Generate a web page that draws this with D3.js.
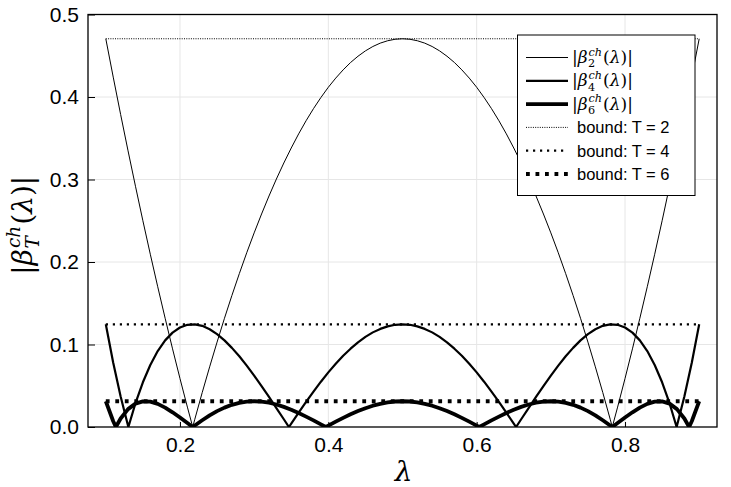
<!DOCTYPE html>
<html>
<head>
<meta charset="utf-8">
<script src="https://cdn.jsdelivr.net/npm/d3@7"></script>
<style>
  html, body { margin: 0; padding: 0; background: #fff; }
  svg { display: block; }
</style>
</head>
<body>
<svg id="chart" width="731" height="487"></svg>
<script>
// ---------------- data ----------------
const lambdaGrid = [0.10,0.11,0.12,0.13,0.14,0.15,0.16,0.17,0.18,0.19,0.20,0.21,0.22,0.23,0.24,0.25,0.26,0.27,0.28,0.29,0.30,0.31,0.32,0.33,0.34,0.35,0.36,0.37,0.38,0.39,0.40,0.41,0.42,0.43,0.44,0.45,0.46,0.47,0.48,0.49,0.50,0.51,0.52,0.53,0.54,0.55,0.56,0.57,0.58,0.59,0.60,0.61,0.62,0.63,0.64,0.65,0.66,0.67,0.68,0.69,0.70,0.71,0.72,0.73,0.74,0.75,0.76,0.77,0.78,0.79,0.80,0.81,0.82,0.83,0.84,0.85,0.86,0.87,0.88,0.89,0.90];

const beta2 = [0.4706,0.4241,0.3788,0.3347,0.2918,0.2500,0.2094,0.1700,0.1318,0.0947,0.0588,0.0241,0.0094,0.0418,0.0729,0.1029,0.1318,0.1594,0.1859,0.2112,0.2353,0.2582,0.2800,0.3006,0.3200,0.3382,0.3553,0.3712,0.3859,0.3994,0.4118,0.4229,0.4329,0.4418,0.4494,0.4559,0.4612,0.4653,0.4682,0.4700,0.4706,
  0.4700,0.4682,0.4653,0.4612,0.4559,0.4494,0.4418,0.4329,0.4229,0.4118,0.3994,0.3859,0.3712,0.3553,0.3382,0.3200,0.3006,0.2800,0.2582,0.2353,0.2112,0.1859,0.1594,0.1318,0.1029,0.0729,0.0418,0.0094,0.0241,0.0588,0.0947,0.1318,0.1700,0.2094,0.2500,0.2918,0.3347,0.3788,0.4241,0.4706];

const beta4 = [0.1245,0.0778,0.0369,0.0015,0.0288,0.0542,0.0752,0.0920,0.1050,0.1144,0.1206,0.1239,0.1244,0.1226,0.1185,0.1126,0.1050,0.0959,0.0857,0.0744,0.0623,0.0495,0.0364,0.0229,0.0094,0.0041,0.0174,0.0304,0.0429,0.0549,0.0662,0.0766,0.0863,0.0949,0.1026,0.1092,0.1147,0.1189,0.1220,0.1239,0.1245,
  0.1239,0.1220,0.1189,0.1147,0.1092,0.1026,0.0949,0.0863,0.0766,0.0662,0.0549,0.0429,0.0304,0.0174,0.0041,0.0094,0.0229,0.0364,0.0495,0.0623,0.0744,0.0857,0.0959,0.1050,0.1126,0.1185,0.1226,0.1244,0.1239,0.1206,0.1144,0.1050,0.0920,0.0752,0.0542,0.0288,0.0015,0.0369,0.0778,0.1245];

const beta6 = [0.0312,0.0070,0.0103,0.0217,0.0283,0.0311,0.0307,0.0280,0.0235,0.0178,0.0115,0.0048,0.0019,0.0082,0.0141,0.0192,0.0235,0.0269,0.0293,0.0308,0.0312,0.0308,0.0294,0.0273,0.0244,0.0210,0.0170,0.0126,0.0080,0.0031,0.0017,0.0065,0.0111,0.0154,0.0193,0.0228,0.0258,0.0281,0.0298,0.0309,0.0312,
  0.0309,0.0298,0.0281,0.0258,0.0228,0.0193,0.0154,0.0111,0.0065,0.0017,0.0031,0.0080,0.0126,0.0170,0.0210,0.0244,0.0273,0.0294,0.0308,0.0312,0.0308,0.0293,0.0269,0.0235,0.0192,0.0141,0.0082,0.0019,0.0048,0.0115,0.0178,0.0235,0.0280,0.0307,0.0311,0.0283,0.0217,0.0103,0.0070,0.0312];

// points where each curve touches zero
const zeros2 = [0.2172, 0.7828];
const zeros4 = [0.1304, 0.3469, 0.6531, 0.8696];
const zeros6 = [0.1136, 0.2172, 0.3965, 0.6035, 0.7828, 0.8864];

const bounds = [0.4706, 0.1245, 0.0312];
const boundRange = [0.1, 0.9];
const orders = [2, 4, 6];

const xTicks = [0.2, 0.4, 0.6, 0.8];
const yTicks = [0.0, 0.1, 0.2, 0.3, 0.4, 0.5];

// ---------------- chart ----------------
const svg = d3.select("#chart");
const L = 88, R = 717, T = 14.5, B = 427;
const x = d3.scaleLinear().domain([0.076, 0.924]).range([L, R]);
const y = d3.scaleLinear().domain([0, 0.5]).range([B, T]);
const sans = "'Liberation Sans', Arial, Helvetica, sans-serif";
const serif = "'DejaVu Serif', 'Liberation Serif', serif";

// grid
svg.append("g").selectAll("line.gx").data(xTicks).join("line")
  .attr("x1", d => x(d)).attr("x2", d => x(d)).attr("y1", T).attr("y2", B)
  .attr("stroke", "#e6e6e6").attr("stroke-width", 1);
svg.append("g").selectAll("line.gy").data(yTicks.filter(d => d > 0 && d < 0.5)).join("line")
  .attr("x1", L).attr("x2", R).attr("y1", d => y(d)).attr("y2", d => y(d))
  .attr("stroke", "#e6e6e6").attr("stroke-width", 1);

// curves
function series(vals, zs) {
  const pts = lambdaGrid.map((l, i) => [l, vals[i]]).concat(zs.map(z => [z, 0]));
  pts.sort((a, b) => a[0] - b[0]);
  return pts;
}
const line = d3.line().x(d => x(d[0])).y(d => y(d[1]));
const curveData = [
  {pts: series(beta2, zeros2), w: 1},
  {pts: series(beta4, zeros4), w: 2.2},
  {pts: series(beta6, zeros6), w: 3.8}
];
svg.append("defs").append("clipPath").attr("id", "clip")
  .append("rect").attr("x", L).attr("y", T).attr("width", R - L).attr("height", B - T);
const plot = svg.append("g").attr("clip-path", "url(#clip)");
plot.selectAll("path.curve").data(curveData).join("path")
  .attr("d", d => line(d.pts)).attr("fill", "none").attr("stroke", "#000")
  .attr("stroke-width", d => d.w).attr("stroke-linejoin", "round");

// bounds
const boundStyles = [
  {w: 1, dash: "1,1.3"},
  {w: 2.2, dash: "2.2,4.8"},
  {w: 3.8, dash: "3.8,5.7"}
];
plot.selectAll("line.bound").data(bounds).join("line")
  .attr("x1", x(boundRange[0])).attr("x2", x(boundRange[1]))
  .attr("y1", d => y(d)).attr("y2", d => y(d))
  .attr("stroke", "#000").attr("stroke-width", (d, i) => boundStyles[i].w)
  .attr("stroke-dasharray", (d, i) => boundStyles[i].dash);

// axes
const yAxis = svg.append("g").attr("transform", `translate(${L},0)`)
  .call(d3.axisLeft(y).tickValues(yTicks).tickFormat(d3.format(".1f")).tickSize(-7).tickPadding(9));
const xAxis = svg.append("g").attr("transform", `translate(0,${B})`)
  .call(d3.axisBottom(x).tickValues(xTicks).tickFormat(d3.format(".1f")).tickSize(-5).tickPadding(10));
[yAxis, xAxis].forEach(a => {
  a.select(".domain").remove();
  a.selectAll(".tick line").attr("stroke", "#000").attr("stroke-width", 1);
  a.selectAll(".tick text").attr("fill", "#000").style("font-family", sans).style("font-size", "21px");
});

// frame
svg.append("rect").attr("x", L).attr("y", T).attr("width", R - L).attr("height", B - T)
  .attr("fill", "none").attr("stroke", "#000").attr("stroke-width", 1.3);

// measure helper
function textWidth(str, size, italic) {
  const t = svg.append("text").style("font-family", serif).style("font-size", size + "px")
    .style("font-style", italic ? "italic" : "normal").text(str);
  const w = t.node().getComputedTextLength();
  t.remove();
  return w;
}

// math label: |β_{sub}^{ch}(λ)| as one text element
function mathLabel(sel, sub, size) {
  const s = size * 0.66;
  const wSup = textWidth("ch", s, true);
  const wSub = textWidth(sub, s, isNaN(+sub));
  const supUp = size * 0.44, subDown = size * 0.26;
  const t = sel.append("text").style("font-family", serif).style("font-size", size + "px");
  t.append("tspan").text("|");
  t.append("tspan").style("font-style", "italic").text("β");
  t.append("tspan").attr("dx", 1).attr("dy", -supUp).style("font-style", "italic")
    .style("font-size", s + "px").text("ch");
  t.append("tspan").attr("dx", -wSup - 0.5).attr("dy", supUp + subDown)
    .style("font-style", isNaN(+sub) ? "italic" : "normal").style("font-size", s + "px").text(sub);
  t.append("tspan").attr("dx", Math.max(0, wSup - wSub) + 1.5).attr("dy", -subDown).text("(");
  t.append("tspan").style("font-style", "italic").text("λ");
  t.append("tspan").text(")|");
  return t;
}

// axis titles
svg.append("text").attr("x", (L + R) / 2 + 1).attr("y", 481)
  .attr("text-anchor", "middle").style("font-family", serif).style("font-style", "italic")
  .style("font-size", "28px").text("λ");
const yt = svg.append("g");
const ytText = mathLabel(yt, "T", 28);
const ytW = ytText.node().getComputedTextLength();
yt.attr("transform", `translate(32,${220 + ytW / 2}) rotate(-90)`);

// legend
const leg = svg.append("g");
leg.append("rect").attr("x", 517.5).attr("y", 35).attr("width", 177.5).attr("height", 160.5)
  .attr("fill", "#fff").attr("stroke", "#000").attr("stroke-width", 1);
const rowY = i => 57.5 + i * 23.3;
orders.forEach((o, i) => {
  leg.append("line").attr("x1", 526).attr("x2", 568).attr("y1", rowY(i)).attr("y2", rowY(i))
    .attr("stroke", "#000").attr("stroke-width", curveData[i].w);
  const g = leg.append("g").attr("transform", `translate(572,${rowY(i) + 5.5})`);
  mathLabel(g, String(o), 17);
});
orders.forEach((o, i) => {
  const yy = rowY(i + 3);
  leg.append("line").attr("x1", 526).attr("x2", 568).attr("y1", yy).attr("y2", yy)
    .attr("stroke", "#000").attr("stroke-width", boundStyles[i].w)
    .attr("stroke-dasharray", boundStyles[i].dash);
  leg.append("text").attr("x", 577).attr("y", yy + 6).style("font-family", sans)
    .style("font-size", "16.5px").text(`bound: T = ${o}`);
});
</script>
</body>
</html>
